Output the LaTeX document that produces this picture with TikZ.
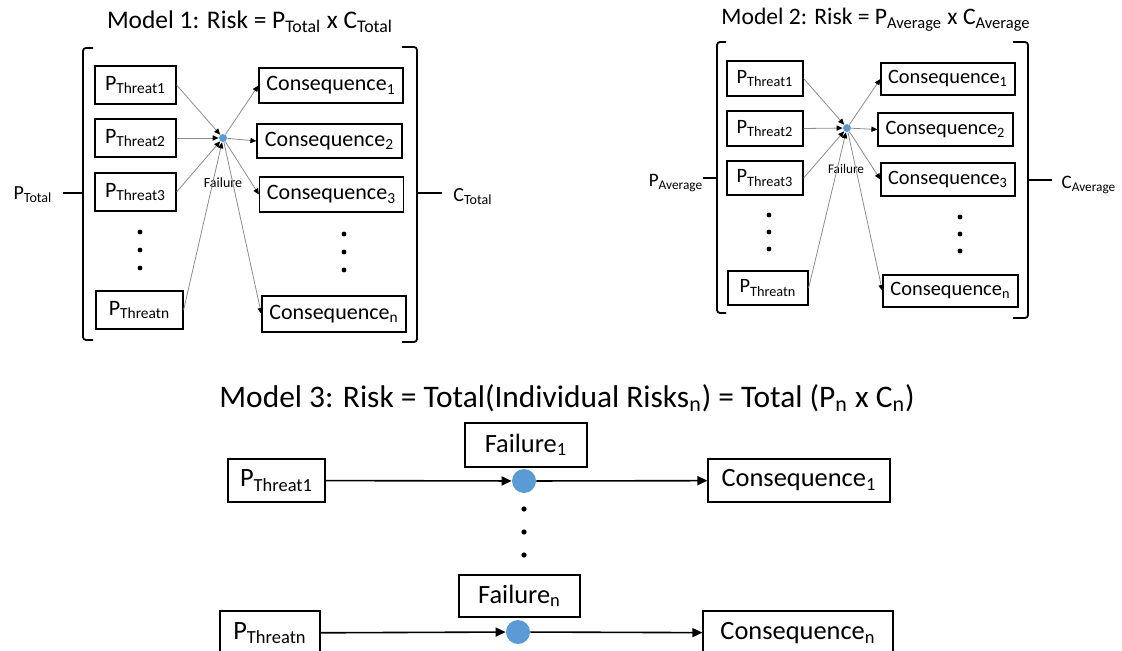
\documentclass[tikz,border=0pt]{standalone}
\usepackage{fontspec}
\setmainfont{Carlito}
\usetikzlibrary{arrows.meta}
\definecolor{dotblue}{RGB}{91,155,213}
\definecolor{linegray}{RGB}{140,140,140}
\tikzset{
  box/.style 2 args={draw, line width=0.6pt, inner sep=0pt, minimum width=#1, minimum height=#2},
  fdot/.style={circle, fill=dotblue, inner sep=0pt, minimum size=#1},
  thinarr/.style={linegray, line width=0.4pt, -{Triangle[length=3pt,width=2.6pt,color=black]}},
  bigarr/.style={line width=0.8pt, -{Triangle[length=5pt,width=4.5pt]}},
  brk/.style={line width=0.9pt, rounded corners=1.5pt},
}
\newcommand{\fs}[1]{\fontsize{#1}{#1}\selectfont}
\begin{document}
\begin{tikzpicture}[x=0.5pt,y=-0.5pt]
    \useasboundingbox (0,0) rectangle (1122,651);

    % Model 1
    \node[font=\fs{12.7}] (title1) at (250,22) {Model 1: Risk = P\textsubscript{Total} x C\textsubscript{Total}};
    \begin{scope}[font=\fs{11}]
        \node[box={40.5pt}{19pt}] (ta1) at (135.5,85) {P\textsubscript{Threat1}};
        \node[box={40.5pt}{19pt}] (ta2) at (135.5,138) {P\textsubscript{Threat2}};
        \node[box={40.5pt}{19pt}] (ta3) at (135.5,192) {P\textsubscript{Threat3}};
        \node[box={43.5pt}{19pt}] (tan) at (139.5,310) {P\textsubscript{Threatn}};
        \node[box={72pt}{17.5pt}] (ca1) at (331,85.5) {Consequence\textsubscript{1}};
        \node[box={72.5pt}{17pt}] (ca2) at (329.5,141) {Consequence\textsubscript{2}};
        \node[box={72pt}{17.5pt}] (ca3) at (331.5,194.5) {Consequence\textsubscript{3}};
        \node[box={72pt}{18pt}] (can) at (334,314) {Consequence\textsubscript{n}};
    \end{scope}
    \node[fdot=4pt] (fa) at (223,138) {};
    \node[font=\fs{7}] (fla) at (223,183) {Failure};
    \foreach \t in {ta1,ta2,ta3,tan} {
        \draw[thinarr] (\t.east) -- (fa);
    }
    \foreach \c in {ca1,ca2,ca3,can} {
        \draw[thinarr] (fa) -- (\c.west);
    }
    \foreach \y in {232,250,268} {
        \fill (140,\y) circle (1.2pt);
        \fill (344,\y+2) circle (1.2pt);
    }
    % Klammern
    \draw[brk] (93,48) -- (83,48) -- (83,340) -- (93,340);
    \draw[brk] (63,193) -- (83,193);
    \draw[brk] (402,47) -- (417,47) -- (417,342) -- (402,342);
    \draw[brk] (417,193) -- (442,193);
    \node[font=\fs{10}] (ptot) at (33,195) {P\textsubscript{Total}};
    \node[font=\fs{10}] (ctot) at (473,197) {C\textsubscript{Total}};

    % Model 2
    \node[font=\fs{11.8}] (title2) at (876,20) {Model 2: Risk = P\textsubscript{Average} x C\textsubscript{Average}};
    \begin{scope}[font=\fs{10.2}]
        \node[box={38pt}{17.5pt}] (tb1) at (765,78.5) {P\textsubscript{Threat1}};
        \node[box={38pt}{17.5pt}] (tb2) at (765,128.5) {P\textsubscript{Threat2}};
        \node[box={38pt}{17pt}] (tb3) at (765,178) {P\textsubscript{Threat3}};
        \node[box={40pt}{17pt}] (tbn) at (768,288) {P\textsubscript{Threatn}};
        \node[box={67pt}{16pt}] (cb1) at (948,79) {Consequence\textsubscript{1}};
        \node[box={67.5pt}{16.5pt}] (cb2) at (945.5,129.5) {Consequence\textsubscript{2}};
        \node[box={67pt}{16.5pt}] (cb3) at (948,179.5) {Consequence\textsubscript{3}};
        \node[box={67.5pt}{16pt}] (cbn) at (950.5,291) {Consequence\textsubscript{n}};
    \end{scope}
    \node[fdot=4pt] (fb) at (847,128) {};
    \node[font=\fs{6.6}] (flb) at (846,169) {Failure};
    \foreach \t in {tb1,tb2,tb3,tbn} {
        \draw[thinarr] (\t.east) -- (fb);
    }
    \foreach \c in {cb1,cb2,cb3,cbn} {
        \draw[thinarr] (fb) -- (\c.west);
    }
    \foreach \y in {215,232,249} {
        \fill (769,\y) circle (1.2pt);
        \fill (960,\y+2) circle (1.2pt);
    }
    \draw[brk] (726,42) -- (717,42) -- (717,313) -- (726,313);
    \draw[brk] (703,178) -- (717,178);
    \draw[brk] (1013,42) -- (1028,42) -- (1028,318) -- (1013,318);
    \draw[brk] (1028,180) -- (1052,180);
    \node[font=\fs{9.5}] (pavg) at (676,183) {P\textsubscript{Average}};
    \node[font=\fs{9.5}] (cavg) at (1089,185) {C\textsubscript{Average}};

    % Model 3
    \node[font=\fs{15.7}] (title3) at (567,398) {Model 3: Risk = Total(Individual Risks\textsubscript{n}) = Total (P\textsubscript{n} x C\textsubscript{n})};
    \begin{scope}[font=\fs{13.2}]
        \node[box={61pt}{22pt}] (fc1) at (526,445) {Failure\textsubscript{1}};
        \node[box={48.5pt}{21.5pt}] (tc1) at (276.5,480.5) {P\textsubscript{Threat1}};
        \node[box={91pt}{21.5pt}] (cc1) at (799,480.5) {Consequence\textsubscript{1}};
        \node[box={60.5pt}{21pt}] (fcn) at (519.5,596) {Failure\textsubscript{n}};
        \node[box={50pt}{22pt}] (tcn) at (270,633) {P\textsubscript{Threatn}};
        \node[box={95pt}{22pt}] (ccn) at (798,633) {Consequence\textsubscript{n}};
    \end{scope}
    \node[fdot=12pt] (d1) at (524,481) {};
    \node[fdot=12pt] (dn) at (518,632) {};
    \draw[bigarr] (tc1) -- (d1);
    \draw[bigarr] (d1) -- (cc1);
    \draw[bigarr] (tcn) -- (dn);
    \draw[bigarr] (dn) -- (ccn);
    \foreach \y in {509,532,555} {
        \fill (524,\y) circle (1.3pt);
    }
\end{tikzpicture}
\end{document}
